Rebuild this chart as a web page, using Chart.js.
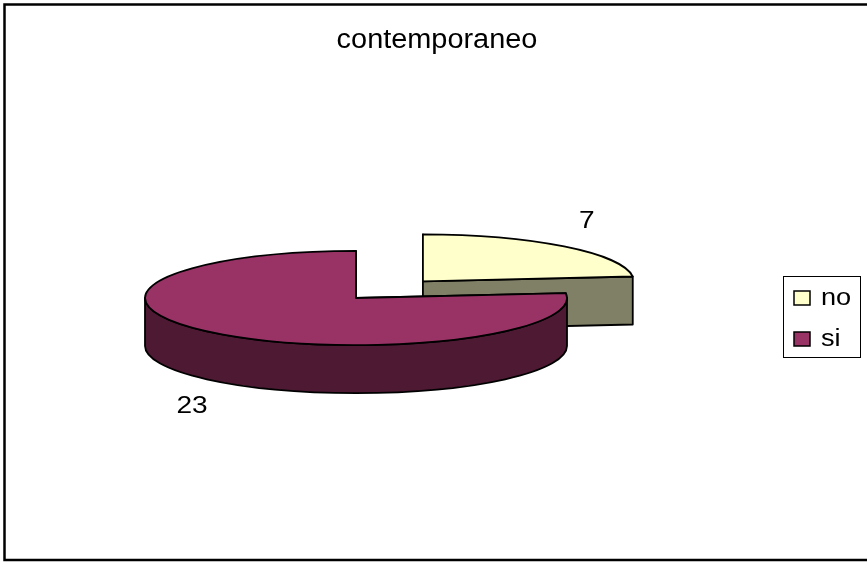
<!DOCTYPE html>
<html>
<head>
<meta charset="utf-8">
<title>contemporaneo</title>
<script src="https://cdn.jsdelivr.net/npm/chart.js@4/dist/chart.umd.min.js"></script>
<style>
  html, body { margin: 0; padding: 0; background: #fff; }
  canvas { display: block; }
</style>
</head>
<body>
<canvas id="pieChart" width="867" height="562"></canvas>
<script>
"use strict";

// Answers for "contemporaneo"
const chartTitle = "contemporaneo";
const categories = ["no", "si"];
const counts = [7, 23];
const topColors = ["#FFFFCC", "#993366"];
const sideColors = ["#808066", "#4D1933"];
const explode = [100, 0];

// Squash factor for the tilted disc and the height of its wall
const tilt = 0.223;
const depth = 48;
const fontFamily = "'Liberation Sans', Arial, sans-serif";

function geometry(arc) {
	const off = arc.options.offset || 0;
	const mid = (arc.startAngle + arc.endAngle) / 2;
	return {
		cx: arc.x + Math.cos(mid) * off,
		cy: arc.y + Math.sin(mid) * off * tilt,
		rx: arc.outerRadius,
		ry: arc.outerRadius * tilt,
		a1: arc.startAngle,
		a2: arc.endAngle,
		mid: mid,
	};
}

function paint(ctx, fill) {
	ctx.fillStyle = fill;
	ctx.fill();
	ctx.stroke();
}

// Text a bit wider than the plain font, like the old office charts
function wideText(ctx, text, x, y, size, stretch, align, baseline) {
	ctx.save();
	ctx.translate(x, y);
	ctx.scale(stretch, 1);
	ctx.font = size + "px " + fontFamily;
	ctx.textAlign = align;
	ctx.textBaseline = baseline;
	ctx.fillStyle = "#000";
	ctx.fillText(text, 0, 0);
	ctx.restore();
}

// Cut face along one radius of a slice
function radialFace(ctx, g, a, color) {
	const px = g.cx + g.rx * Math.cos(a);
	const py = g.cy + g.ry * Math.sin(a);
	ctx.beginPath();
	ctx.moveTo(g.cx, g.cy);
	ctx.lineTo(px, py);
	ctx.lineTo(px, py + depth);
	ctx.lineTo(g.cx, g.cy + depth);
	ctx.closePath();
	paint(ctx, color);
}

// Curved outer wall, only the part that faces the viewer
function outerWall(ctx, g, color) {
	for (let k = -1; k <= 1; k++) {
		const s = Math.max(g.a1, 2 * Math.PI * k);
		const e = Math.min(g.a2, 2 * Math.PI * k + Math.PI);
		if (e <= s) continue;
		ctx.beginPath();
		ctx.ellipse(g.cx, g.cy, g.rx, g.ry, 0, s, e, false);
		ctx.lineTo(g.cx + g.rx * Math.cos(e), g.cy + g.ry * Math.sin(e) + depth);
		ctx.ellipse(g.cx, g.cy + depth, g.rx, g.ry, 0, e, s, true);
		ctx.closePath();
		paint(ctx, color);
	}
}

const pie3d = {
	id: "pie3d",
	beforeDraw(chart) {
		const ctx = chart.ctx;
		ctx.save();
		ctx.fillStyle = "#fff";
		ctx.fillRect(0, 0, chart.width, chart.height);
		// frame round the chart
		ctx.strokeStyle = "#000";
		ctx.lineWidth = 2.5;
		ctx.beginPath();
		ctx.moveTo(chart.width + 2, 4.5);
		ctx.lineTo(4.5, 4.5);
		ctx.lineTo(4.5, 560);
		ctx.lineTo(chart.width + 2, 560);
		ctx.stroke();
		ctx.restore();
		wideText(ctx, chartTitle, 437, 48, 27, 1.07, "center", "alphabetic");
	},
	beforeDatasetsDraw(chart) {
		const ctx = chart.ctx;
		const meta = chart.getDatasetMeta(0);
		const slices = meta.data.map((arc, i) => ({ i: i, g: geometry(arc) }));
		// draw back slices first
		slices.sort((p, q) => p.g.cy - q.g.cy);

		ctx.save();
		ctx.strokeStyle = "#000";
		ctx.lineWidth = 1.8;
		ctx.lineJoin = "round";
		slices.forEach(function (s) {
			const g = s.g;
			radialFace(ctx, g, g.a1, sideColors[s.i]);
			radialFace(ctx, g, g.a2, sideColors[s.i]);
			outerWall(ctx, g, sideColors[s.i]);
			ctx.beginPath();
			ctx.moveTo(g.cx, g.cy);
			ctx.ellipse(g.cx, g.cy, g.rx, g.ry, 0, g.a1, g.a2, false);
			ctx.closePath();
			paint(ctx, topColors[s.i]);
		});
		ctx.restore();

		// value labels outside each slice
		slices.forEach(function (s) {
			const g = s.g;
			const c = Math.cos(g.mid);
			const sn = Math.sin(g.mid);
			const lx = g.cx + (g.rx + 34) * c;
			const ly = g.cy + g.ry * sn + 34 * sn + (sn > 0 ? depth : 0);
			wideText(ctx, String(counts[s.i]), lx, ly, 23, 1.22, "center", "middle");
		});
		return false;
	},
	afterDraw(chart) {
		const ctx = chart.ctx;
		ctx.save();
		ctx.strokeStyle = "#000";
		ctx.lineWidth = 1;
		ctx.strokeRect(783.5, 276.5, 77, 81);
		ctx.lineWidth = 1.5;
		categories.forEach(function (label, i) {
			const y = 291 + i * 41;
			ctx.fillStyle = topColors[i];
			ctx.fillRect(794, y, 16, 14);
			ctx.strokeRect(794, y, 16, 14);
			wideText(ctx, label, 821, y + 14, 23, 1.18, "left", "alphabetic");
		});
		ctx.restore();
	},
};

new Chart(document.getElementById("pieChart"), {
	type: "pie",
	data: {
		labels: categories,
		datasets: [
			{
				data: counts,
				backgroundColor: topColors,
				offset: explode,
				borderWidth: 0,
			},
		],
	},
	options: {
		responsive: false,
		animation: false,
		radius: 211,
		layout: { padding: { top: 64, right: 155, bottom: 30, left: 0 } },
		plugins: {
			legend: { display: false },
			title: { display: false },
			tooltip: { enabled: false },
		},
	},
	plugins: [pie3d],
});
</script>
</body>
</html>
